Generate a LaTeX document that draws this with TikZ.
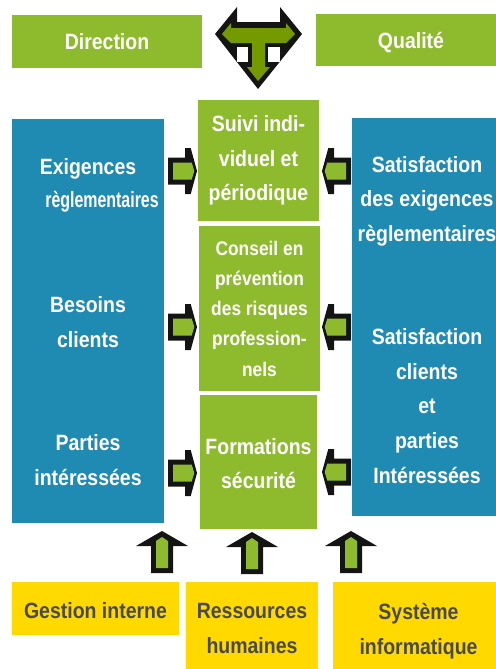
\documentclass[tikz,border=0pt]{standalone}
\usepackage{fontspec}
\setmainfont[FakeStretch=0.88]{Liberation Sans}
\newfontfamily\narrowfont[FakeStretch=0.72]{Liberation Sans}
\usetikzlibrary{positioning}
\definecolor{boxgreen}{HTML}{8DBB2D}
\definecolor{boxblue}{HTML}{1F8BB3}
\definecolor{boxyellow}{HTML}{FFD900}
\definecolor{darkgreen}{HTML}{749A00}
\definecolor{inkgrey}{HTML}{4A4A4A}
\definecolor{inkblack}{HTML}{141414}
\tikzset{>=stealth}
\tikzset{
  x=0.75pt,y=-0.75pt,
  box/.style n args={3}{fill=#1,anchor=north west,inner sep=0pt,outer sep=0pt,minimum width=#2*0.75pt,minimum height=#3*0.75pt,align=center},
  whitetext/.style={text=white,font=\fontsize{16.6}{26}\bfseries\selectfont},
  smalltext/.style={text=white,font=\fontsize{14.8}{22.7}\bfseries\selectfont},
  greytext/.style={text=inkgrey,font=\fontsize{16.6}{26}\bfseries\selectfont},
  label/.style={whitetext,align=center,inner sep=0pt},
  greylabel/.style={greytext,align=center,inner sep=0pt},
  sidearrow/.pic={
    \fill[inkblack] (0,-13.5) -- (17,-13.5) -- (17,-23) -- (22.7,-23) -- (29,0) -- (22.7,23) -- (17,23) -- (17,13.5) -- (0,13.5) -- cycle;
    \fill[boxgreen] (5,-8.5) -- (23.7,-8.5) -- (26.3,0) -- (23.7,8.5) -- (5,8.5) -- cycle;
  },
  uparrow/.pic={
    \fill[inkblack] (-11,0) -- (-11,-27) -- (-26,-27) -- (0,-42) -- (26,-27) -- (11,-27) -- (11,0) -- cycle;
    \fill[boxgreen] (-6,-5) -- (-6,-32) -- (0,-36) -- (6,-32) -- (6,-5) -- cycle;
  }
}

\begin{document}
\begin{tikzpicture}
\useasboundingbox (0,0) rectangle (496,669);

\fill node[box={boxgreen}{190}{53},whitetext] (direction) at (12,15) {Direction};
\fill node[box={boxgreen}{180}{52}] (qualite) at (316,14) {};
\fill node[label] (qualitetext) at (411,43) {Qualité};

\fill[inkblack] (237,7) -- (237,22) -- (280,22) -- (280,7) -- (302,34) -- (258,89) -- (215,34) -- cycle;
\fill[white] (237,47) rectangle (248,62);
\fill[white] (268,47) rectangle (280,62);
\fill[darkgreen] (222,34) -- (231,23) -- (231,28) -- (286,28) -- (286,23) -- (295,34) -- (286,43) -- (265,43) -- (265,67) -- (270,67) -- (258,81) -- (247,67) -- (252,67) -- (252,43) -- (231,43) -- cycle;

\fill node[box={boxblue}{152}{404}] (needs) at (12,119) {};
\fill node[box={boxblue}{144}{398}] (results) at (352,118) {};

\fill node[label] (exig) at (88,169) {Exigences};
\fill node[label,font=\fontsize{16.6}{26}\narrowfont\bfseries\selectfont] (regl) at (102,202) {règlementaires};
\fill node[label] (besoins) at (88,322) {Besoins\\clients};
\fill node[label] (parties) at (88,460) {Parties\\intéressées};

\fill node[label] (satreg) at (427,201) {Satisfaction\\des exigences\\règlementaires};
\fill node[label] (satcli) at (427,406) {Satisfaction\\clients\\et\\parties\\Intéressées};

\fill node[box={boxgreen}{121}{121},whitetext] (suivi) at (198,100) {Suivi indi-\\viduel et\\périodique};
\fill node[box={boxgreen}{121}{165},smalltext] (conseil) at (199,226) {Conseil en\\prévention\\des risques\\profession-\\nels};
\fill node[box={boxgreen}{117}{134}] (formations) at (200,395) {};
\fill node[label] (formationstext) at (258.5,463.5) {Formations\\sécurité};

\fill node[box={boxyellow}{167}{53}] (gestion) at (12,582) {};
\fill node[box={boxyellow}{132}{87}] (ressources) at (186,582) {};
\fill node[box={boxyellow}{163}{87}] (systeme) at (333,582) {};
\fill node[greylabel] (gestiontext) at (95.5,610.5) {Gestion interne};
\fill node[greylabel] (ressourcestext) at (252,628.5) {Ressources\\humaines};
\fill node[greylabel] (systemetext) at (418.5,631.5) {Système\\informatique};

\pic at (168,171) {sidearrow};
\pic at (168,327) {sidearrow};
\pic at (168,473) {sidearrow};
\pic[xscale=-1] at (351,171) {sidearrow};
\pic[xscale=-1] at (351,327) {sidearrow};
\pic[xscale=-1] at (351,472) {sidearrow};

\pic at (162,573) {uparrow};
\pic at (252,574) {uparrow};
\pic at (351,573) {uparrow};
\end{tikzpicture}
\end{document}
